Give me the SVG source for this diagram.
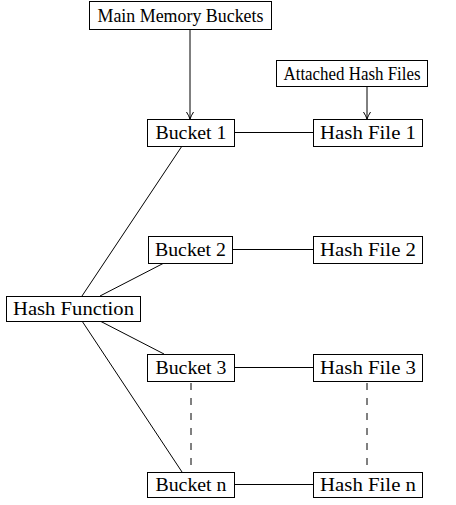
<svg xmlns="http://www.w3.org/2000/svg" width="456" height="505" viewBox="0 0 456 505">
<style>
.box{fill:#fff;stroke:#000;stroke-width:1}
.t{font-family:"Liberation Serif","DejaVu Serif",serif;font-size:18px;fill:#000;text-anchor:middle}
.c{stroke:#000;stroke-width:1;fill:none}
.d{stroke:#000;stroke-width:1;fill:none;stroke-dasharray:7,8}
</style>
<defs>
<marker id="arr" viewBox="0 0 10 10" refX="9" refY="5" markerWidth="10" markerHeight="10" markerUnits="userSpaceOnUse" orient="auto">
<path d="M2,1.5 Q6,4 9,5 Q6,6 2,8.5" fill="none" stroke="#000" stroke-width="1"/>
</marker>
</defs>
<g id="connectors">
<line class="c" x1="190" y1="29" x2="190" y2="119" marker-end="url(#arr)"/>
<line class="c" x1="367" y1="86" x2="367" y2="119" marker-end="url(#arr)"/>
<line class="c" x1="234" y1="132.5" x2="313" y2="132.5"/>
<line class="c" x1="232" y1="249.5" x2="313" y2="249.5"/>
<line class="c" x1="234" y1="367.5" x2="313" y2="367.5"/>
<line class="c" x1="234" y1="484.5" x2="313" y2="484.5"/>
<line class="c" x1="82" y1="296" x2="182" y2="146"/>
<line class="c" x1="100" y1="296" x2="164" y2="263"/>
<line class="c" x1="100" y1="321" x2="164" y2="354"/>
<line class="c" x1="82" y1="321" x2="182" y2="472"/>
<line class="d" x1="191" y1="383" x2="191" y2="472"/>
<line class="d" x1="367" y1="383" x2="367" y2="472"/>
</g>
<g id="main-memory"><rect class="box" x="89.5" y="1.5" width="182" height="28"/><text class="t" x="180.5" y="21.5" textLength="166" lengthAdjust="spacingAndGlyphs">Main Memory Buckets</text></g>
<g id="attached"><rect class="box" x="276.5" y="60.5" width="151" height="26"/><text class="t" x="352" y="79.5" textLength="137" lengthAdjust="spacingAndGlyphs">Attached Hash Files</text></g>
<g id="bucket1"><rect class="box" x="147.5" y="119.5" width="87" height="27"/><text class="t" x="191" y="138.5" textLength="71" lengthAdjust="spacingAndGlyphs">Bucket 1</text></g>
<g id="hashfile1"><rect class="box" x="313.5" y="119.5" width="109" height="27"/><text class="t" x="368" y="138.5" textLength="96" lengthAdjust="spacingAndGlyphs">Hash File 1</text></g>
<g id="bucket2"><rect class="box" x="148.5" y="236.5" width="84" height="27"/><text class="t" x="190.5" y="255.5" textLength="71" lengthAdjust="spacingAndGlyphs">Bucket 2</text></g>
<g id="hashfile2"><rect class="box" x="313.5" y="236.5" width="109" height="27"/><text class="t" x="368" y="255.5" textLength="96" lengthAdjust="spacingAndGlyphs">Hash File 2</text></g>
<g id="hashfunction"><rect class="box" x="6.5" y="296.5" width="134" height="25"/><text class="t" x="73.5" y="314.5" textLength="121" lengthAdjust="spacingAndGlyphs">Hash Function</text></g>
<g id="bucket3"><rect class="box" x="147.5" y="354.5" width="87" height="27"/><text class="t" x="191" y="373.5" textLength="71" lengthAdjust="spacingAndGlyphs">Bucket 3</text></g>
<g id="hashfile3"><rect class="box" x="313.5" y="354.5" width="109" height="27"/><text class="t" x="368" y="373.5" textLength="96" lengthAdjust="spacingAndGlyphs">Hash File 3</text></g>
<g id="bucketn"><rect class="box" x="147.5" y="472.5" width="87" height="25"/><text class="t" x="191" y="490.5" textLength="71" lengthAdjust="spacingAndGlyphs">Bucket n</text></g>
<g id="hashfilen"><rect class="box" x="313.5" y="472.5" width="109" height="25"/><text class="t" x="368" y="490.5" textLength="96" lengthAdjust="spacingAndGlyphs">Hash File n</text></g>
</svg>
